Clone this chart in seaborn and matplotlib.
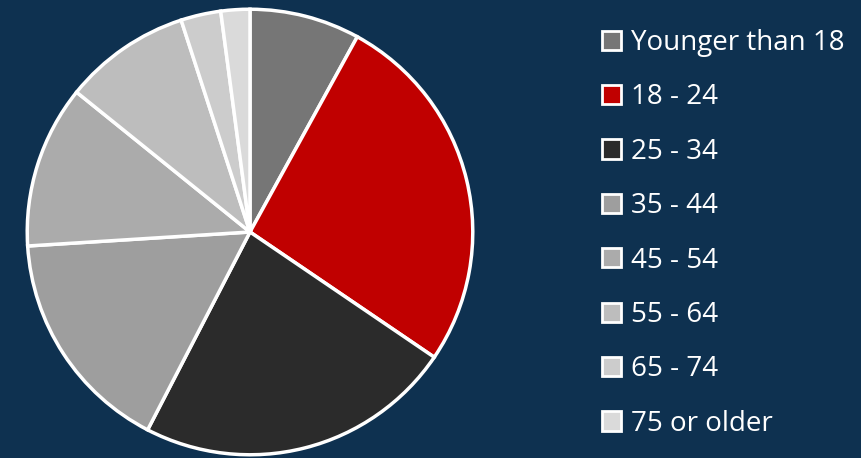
import matplotlib
matplotlib.use("Agg")
import matplotlib.pyplot as plt
from matplotlib.patches import Patch
import seaborn as sns

# Datos (porcentaje aproximado por grupo de edad)
age_groups = ["Younger than 18", "18 - 24", "25 - 34", "35 - 44",
              "45 - 54", "55 - 64", "65 - 74", "75 or older"]
shares = [8.0, 26.5, 23.1, 16.4, 11.8, 9.2, 2.9, 2.1]
colors = ["#767676", "#C00000", "#2B2B2B", "#9E9E9E",
          "#ABABAB", "#BDBDBD", "#CCCCCC", "#DADADA"]

BG = "#0E3150"

sns.set_theme(style="white")
plt.rcParams["font.family"] = ["Open Sans", "DejaVu Sans"]

fig = plt.figure(figsize=(8.61, 4.58), dpi=100, facecolor=BG)
ax = fig.add_axes([25 / 861, 1 / 458, 450 / 861, 450 / 458])
ax.set_facecolor(BG)

wedges, _ = ax.pie(
    shares,
    colors=colors,
    startangle=90,
    counterclock=False,
    wedgeprops=dict(edgecolor="white", linewidth=2.5),
)
ax.set_xlim(-1.01, 1.01)
ax.set_ylim(-1.01, 1.01)
ax.set_aspect("equal")

# ── Leyenda ──────────────────────────────────────────────────────────────
handles = [Patch(facecolor=c, edgecolor="white", linewidth=2) for c in colors]
leg = fig.legend(
    handles, age_groups,
    loc="upper left",
    bbox_to_anchor=(602 / 861, 1 - 29 / 458),
    frameon=False,
    fontsize=20,
    labelcolor="white",
    handlelength=0.68,
    handleheight=0.68,
    handletextpad=0.36,
    labelspacing=0.95,
    borderpad=0,
    borderaxespad=0,
)

fig.savefig("out.png", dpi=100, facecolor=BG)
